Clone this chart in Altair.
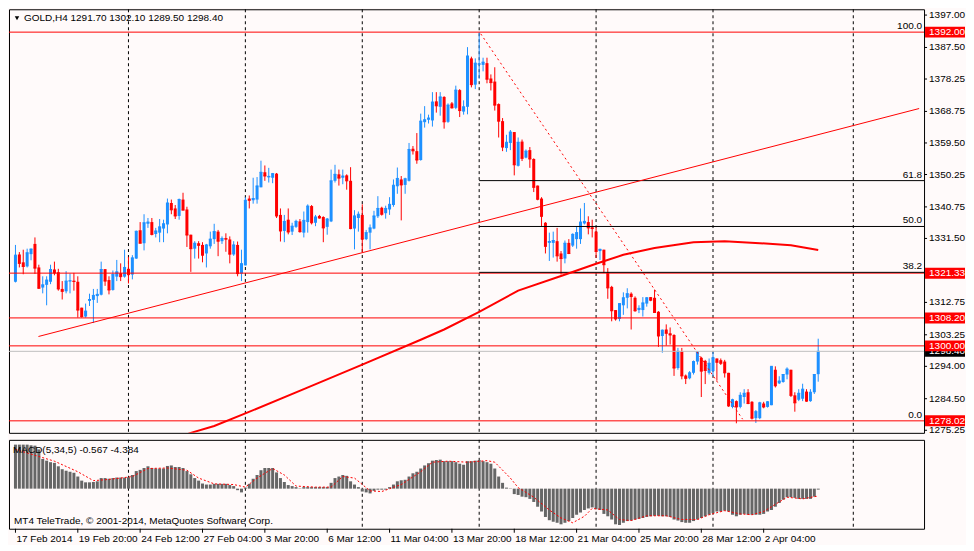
import altair as alt
import pandas as pd

# ---------------- data ----------------
opens = [1318.8, 1326.8, 1324.5, 1323.3, 1326.9, 1329.9, 1323.0, 1317.1, 1317.9, 1318.8,
         1322.4, 1321.6, 1316.7, 1316.0, 1318.9, 1319.1, 1318.8, 1311.2, 1308.6, 1313.2,
         1313.5, 1314.6, 1315.0, 1322.5, 1319.3, 1316.4, 1320.3, 1321.3, 1320.3, 1322.6,
         1320.9, 1325.6, 1333.9, 1330.1, 1335.8, 1336.3, 1332.8, 1333.2, 1334.4, 1335.6,
         1341.9, 1340.3, 1338.1, 1342.9, 1340.0, 1332.6, 1328.5, 1330.1, 1329.6, 1327.1,
         1329.2, 1331.3, 1333.5, 1330.7, 1331.6, 1331.2, 1326.8, 1329.6, 1321.2, 1323.6,
         1343.2, 1342.7, 1342.9, 1346.5, 1350.9, 1349.4, 1349.3, 1350.5, 1338.4, 1333.7,
         1337.0, 1333.5, 1334.9, 1336.5, 1333.2, 1336.3, 1341.0, 1336.1, 1338.1, 1337.8,
         1334.9, 1336.5, 1348.4, 1350.3, 1349.3, 1350.0, 1348.4, 1334.4, 1337.5, 1338.4,
         1331.3, 1333.2, 1334.4, 1338.0, 1340.5, 1338.9, 1340.0, 1341.3, 1346.8, 1348.8,
         1347.2, 1348.4, 1357.8, 1357.1, 1354.5, 1365.6, 1366.3, 1366.1, 1371.7, 1370.1,
         1373.0, 1365.7, 1371.1, 1369.8, 1375.0, 1368.7, 1370.1, 1384.3, 1376.6, 1382.5,
         1382.4, 1382.9, 1378.4, 1377.5, 1370.9, 1365.9, 1358.0, 1359.5, 1362.7, 1352.8,
         1359.9, 1355.2, 1357.4, 1354.8, 1347.0, 1343.2, 1336.1, 1330.2, 1330.2, 1330.7,
         1327.1, 1325.6, 1330.2, 1329.4, 1331.3, 1331.3, 1335.9, 1336.3, 1334.8, 1333.5,
         1327.8, 1328.2, 1321.4, 1317.3, 1310.5, 1307.9, 1311.9, 1314.1, 1315.3, 1314.1,
         1310.5, 1310.5, 1312.4, 1314.3, 1314.1, 1310.0, 1302.9, 1304.8, 1303.7, 1303.2,
         1293.5, 1298.4, 1291.3, 1290.5, 1292.1, 1295.4, 1296.5, 1295.6, 1292.1, 1292.6,
         1296.3, 1295.8, 1295.4, 1292.1, 1282.1, 1283.8, 1282.1, 1285.0, 1286.4, 1283.6,
         1278.8, 1278.8, 1283.1, 1282.1, 1282.6, 1293.0, 1289.0, 1289.4, 1291.6, 1293.0,
         1285.5, 1284.2, 1284.5, 1286.6, 1283.8, 1286.4, 1291.7]
highs = [1329.6, 1327.5, 1328.2, 1328.5, 1328.5, 1331.8, 1323.8, 1320.4, 1320.4, 1323.8,
         1324.7, 1322.6, 1319.0, 1321.9, 1321.2, 1321.4, 1320.4, 1311.2, 1312.4, 1315.3,
         1316.7, 1316.7, 1324.7, 1322.5, 1320.4, 1322.1, 1325.2, 1324.2, 1328.2, 1326.1,
         1326.6, 1333.8, 1336.3, 1338.6, 1337.5, 1337.5, 1334.6, 1337.2, 1337.0, 1343.2,
         1342.9, 1341.3, 1343.2, 1344.9, 1340.8, 1332.6, 1330.7, 1330.7, 1330.4, 1329.9,
         1333.5, 1335.8, 1334.0, 1332.1, 1333.0, 1332.1, 1330.7, 1330.6, 1328.2, 1343.6,
         1344.1, 1349.3, 1349.5, 1354.3, 1352.9, 1352.2, 1350.7, 1350.7, 1340.3, 1338.4,
         1340.3, 1336.1, 1337.0, 1337.2, 1339.4, 1341.5, 1341.3, 1338.4, 1338.4, 1338.0,
         1337.5, 1351.7, 1353.1, 1351.7, 1351.7, 1350.3, 1352.4, 1339.8, 1339.4, 1341.5,
         1334.0, 1335.6, 1339.6, 1343.9, 1340.8, 1341.1, 1343.6, 1348.8, 1352.3, 1349.8,
         1349.3, 1359.5, 1358.6, 1362.4, 1368.1, 1370.3, 1367.8, 1374.4, 1374.4, 1374.4,
         1373.2, 1371.1, 1371.5, 1376.3, 1375.3, 1372.0, 1387.6, 1384.8, 1384.3, 1392.0,
         1384.5, 1384.5, 1379.6, 1381.7, 1371.1, 1366.8, 1361.9, 1363.3, 1362.7, 1361.1,
         1360.5, 1357.6, 1358.3, 1355.0, 1347.0, 1343.6, 1336.3, 1333.2, 1333.5, 1334.6,
         1327.8, 1330.9, 1331.3, 1333.0, 1335.1, 1340.3, 1341.9, 1338.0, 1337.0, 1334.8,
         1328.5, 1328.2, 1322.8, 1317.6, 1310.5, 1312.4, 1315.7, 1316.9, 1315.7, 1314.5,
         1311.9, 1314.3, 1314.3, 1314.3, 1316.5, 1310.2, 1304.8, 1306.3, 1305.4, 1303.4,
         1299.4, 1299.4, 1291.6, 1292.6, 1295.7, 1298.5, 1296.8, 1295.9, 1296.3, 1298.2,
         1296.3, 1296.3, 1295.9, 1292.1, 1284.5, 1284.0, 1286.4, 1287.3, 1287.3, 1283.8,
         1281.2, 1283.6, 1283.6, 1283.8, 1294.1, 1294.0, 1291.1, 1291.6, 1293.7, 1293.0,
         1286.4, 1287.3, 1288.9, 1287.3, 1287.3, 1291.6, 1302.1]
lows = [1318.6, 1323.0, 1321.0, 1323.0, 1325.1, 1321.1, 1316.7, 1315.4, 1311.9, 1318.1,
        1320.7, 1316.2, 1313.6, 1315.4, 1315.4, 1316.2, 1308.3, 1308.3, 1308.3, 1311.7,
        1306.7, 1312.6, 1314.8, 1317.6, 1315.1, 1316.2, 1319.0, 1319.0, 1320.0, 1318.3,
        1319.5, 1325.5, 1330.1, 1328.0, 1334.6, 1332.4, 1331.8, 1330.4, 1330.4, 1333.0,
        1338.6, 1337.2, 1337.0, 1339.8, 1329.0, 1321.7, 1325.6, 1325.6, 1324.5, 1323.0,
        1328.5, 1329.9, 1326.3, 1329.9, 1327.6, 1324.2, 1326.4, 1320.4, 1319.0, 1323.6,
        1340.3, 1341.7, 1341.7, 1346.5, 1348.4, 1347.9, 1347.7, 1337.5, 1330.6, 1330.4,
        1332.7, 1332.5, 1334.6, 1333.2, 1331.8, 1333.2, 1335.6, 1335.1, 1337.3, 1330.4,
        1332.6, 1336.3, 1347.9, 1347.0, 1347.4, 1345.8, 1334.2, 1328.3, 1333.5, 1327.4,
        1331.0, 1328.3, 1334.2, 1337.5, 1338.2, 1337.3, 1338.4, 1340.8, 1344.6, 1336.8,
        1344.6, 1348.2, 1356.1, 1353.4, 1354.3, 1364.0, 1365.2, 1364.3, 1368.4, 1367.5,
        1363.7, 1365.4, 1369.6, 1369.4, 1367.1, 1367.8, 1367.9, 1375.8, 1375.3, 1378.4,
        1380.5, 1377.0, 1374.9, 1369.0, 1361.1, 1357.1, 1356.9, 1357.4, 1350.0, 1352.6,
        1354.2, 1355.0, 1352.2, 1345.1, 1342.7, 1335.1, 1327.1, 1324.9, 1325.9, 1324.7,
        1320.9, 1324.2, 1326.9, 1329.0, 1328.5, 1329.9, 1335.6, 1332.7, 1331.8, 1325.8,
        1325.2, 1321.4, 1313.8, 1307.2, 1307.4, 1307.2, 1309.1, 1311.0, 1304.8, 1310.0,
        1309.6, 1308.6, 1311.5, 1313.1, 1309.8, 1299.7, 1298.0, 1300.1, 1300.4, 1291.2,
        1293.0, 1290.2, 1288.8, 1290.2, 1291.6, 1294.5, 1285.0, 1288.8, 1291.6, 1291.1,
        1289.8, 1294.4, 1290.7, 1282.1, 1281.7, 1277.3, 1281.7, 1283.1, 1282.9, 1278.4,
        1277.4, 1278.5, 1281.7, 1281.9, 1282.6, 1287.8, 1288.8, 1289.2, 1290.2, 1285.0,
        1280.7, 1283.8, 1283.8, 1283.6, 1283.6, 1285.9, 1289.5]
closes = [1326.6, 1324.2, 1323.3, 1327.3, 1328.4, 1322.8, 1316.9, 1317.9, 1319.3, 1322.4,
          1321.4, 1316.7, 1316.0, 1319.0, 1319.1, 1318.9, 1310.5, 1308.6, 1310.2, 1313.6,
          1314.8, 1315.1, 1322.4, 1319.0, 1316.4, 1320.9, 1321.7, 1320.3, 1323.0, 1320.9,
          1325.8, 1333.6, 1330.1, 1336.1, 1336.3, 1332.7, 1333.7, 1334.9, 1335.8, 1341.9,
          1339.9, 1338.1, 1342.9, 1339.8, 1332.5, 1328.5, 1330.1, 1329.5, 1326.6, 1329.6,
          1331.3, 1333.5, 1330.7, 1331.5, 1331.3, 1326.9, 1329.6, 1321.2, 1324.1, 1342.7,
          1342.7, 1343.2, 1346.9, 1350.9, 1349.8, 1349.7, 1350.5, 1338.1, 1333.7, 1336.5,
          1333.4, 1335.1, 1336.5, 1333.5, 1336.8, 1341.0, 1336.1, 1337.8, 1337.5, 1334.6,
          1337.2, 1348.4, 1350.3, 1349.2, 1349.8, 1348.4, 1334.4, 1338.1, 1338.6, 1331.3,
          1333.2, 1334.6, 1338.1, 1340.3, 1338.6, 1340.3, 1341.5, 1347.1, 1349.1, 1347.2,
          1349.0, 1357.6, 1357.2, 1354.5, 1365.9, 1366.3, 1366.8, 1371.5, 1370.4, 1373.0,
          1365.7, 1370.6, 1369.8, 1375.0, 1369.0, 1370.1, 1385.0, 1376.6, 1382.9, 1382.7,
          1383.2, 1378.2, 1377.2, 1370.6, 1365.9, 1358.3, 1359.7, 1362.7, 1353.1, 1359.7,
          1355.0, 1357.1, 1354.8, 1346.5, 1343.0, 1338.0, 1329.2, 1330.6, 1330.9, 1326.4,
          1325.6, 1330.1, 1327.1, 1332.7, 1333.2, 1336.3, 1336.5, 1334.6, 1334.4, 1327.7,
          1328.3, 1323.8, 1317.0, 1310.3, 1307.9, 1312.4, 1314.1, 1315.3, 1314.5, 1310.3,
          1311.0, 1312.6, 1314.1, 1313.4, 1309.8, 1302.9, 1304.6, 1303.7, 1303.2, 1293.5,
          1298.4, 1291.2, 1290.5, 1292.1, 1295.4, 1298.2, 1292.6, 1292.8, 1294.9, 1296.5,
          1295.2, 1294.9, 1292.1, 1282.4, 1284.2, 1282.1, 1285.5, 1286.1, 1283.1, 1278.8,
          1280.7, 1283.3, 1282.1, 1283.6, 1294.0, 1288.3, 1289.7, 1291.6, 1293.2, 1285.5,
          1283.3, 1286.1, 1287.3, 1283.8, 1286.4, 1291.6, 1298.4]

macd_hist = [25.8, 25.8, 25.8, 25.8, 25.4, 25.2, 23.0, 17.4, 16.4, 15.5,
             15.1, 13.1, 11.4, 10.5, 9.9, 9.3, 7.1, 4.7, 3.7, 3.7,
             3.9, 4.3, 6.2, 6.2, 5.8, 6.2, 6.5, 6.5, 6.5, 6.7,
             8.0, 10.3, 11.0, 12.1, 13.1, 12.1, 11.8, 11.8, 11.8, 13.3,
             13.6, 12.7, 12.7, 12.1, 10.3, 8.4, 6.2, 4.7, 3.0, 2.4,
             2.4, 2.8, 2.8, 2.8, 2.8, 2.1, 1.5, -0.9, -2.2, 0.6,
             2.8, 5.8, 8.0, 10.8, 12.1, 12.1, 12.1, 9.5, 6.2, 3.9,
             2.1, 1.5, 0.9, 0.2, 0.9, 0.9, 0.9, 0.9, 0.9, 0.9,
             0.9, 3.4, 6.2, 7.1, 8.0, 7.5, 4.3, 2.4, 0.9, -1.7,
             -2.2, -2.8, -1.3, -0.6, -0.6, -0.6, 0.9, 2.4, 4.3, 4.9,
             5.2, 7.1, 9.0, 9.9, 11.8, 13.6, 14.9, 16.4, 16.8, 17.0,
             16.1, 16.1, 16.1, 15.5, 14.6, 14.0, 16.1, 16.1, 16.4, 16.8,
             16.1, 15.5, 14.6, 11.8, 7.1, 3.4, 0.6, 0.2, -3.2, -3.7,
             -4.7, -5.0, -6.0, -7.8, -10.6, -13.4, -16.6, -18.5, -19.4, -20.0,
             -20.9, -20.0, -19.0, -17.2, -15.3, -14.0, -12.5, -11.6, -11.0, -12.1,
             -12.5, -14.8, -16.2, -18.1, -20.9, -21.3, -20.0, -19.0, -18.7, -18.1,
             -17.7, -17.2, -16.6, -16.2, -15.9, -15.9, -16.2, -16.2, -16.6, -18.1,
             -18.7, -19.6, -20.0, -20.0, -19.0, -18.1, -17.2, -16.2, -15.3, -14.4,
             -13.4, -13.4, -12.9, -13.4, -15.3, -16.2, -15.3, -14.8, -15.3, -15.3,
             -15.3, -15.3, -14.8, -13.4, -12.5, -10.6, -8.4, -6.5, -5.0, -5.0,
             -5.4, -6.0, -6.0, -6.0, -6.0, -4.7, -0.567]

signal_bars = [0, 10, 16, 20, 23, 27, 30, 34, 39, 44, 47, 51, 56, 59, 62, 66, 69, 72, 77,
               81, 84, 87, 91, 94, 99, 104, 107, 111, 116, 121, 123, 127, 129, 133, 137,
               140, 143, 146, 148, 152, 155, 158, 162, 167, 171, 175, 178, 182, 186, 189,
               192, 196, 198, 202, 205, 206]
signal_vals = [23.0, 16.1, 9.9, 4.7, 5.2, 6.2, 7.1, 11.8, 12.1, 10.8, 6.2, 2.8, 2.4, 0.9,
               6.2, 11.8, 8.0, 1.5, 0.9, 0.9, 7.1, 6.2, -1.3, -1.7, 2.4, 9.9, 15.5, 16.1,
               15.5, 16.4, 15.5, 6.2, 0.6, -5.0, -12.5, -17.2, -20.0, -16.2, -11.6, -12.5,
               -18.1, -18.7, -15.9, -15.9, -18.1, -18.1, -15.3, -12.9, -14.8, -15.3, -13.4,
               -7.8, -5.0, -6.0, -4.7, -4.384]

ma_bars = [43, 45, 51, 59, 74, 89, 104, 110, 119, 129, 140, 149, 156, 164, 174, 182, 191, 199, 206]
ma_vals = [1273.6, 1274.5, 1276.5, 1280.2, 1287.3, 1294.5, 1301.8, 1304.8, 1310.0, 1316.2,
           1320.5, 1324.1, 1326.7, 1328.7, 1330.4, 1330.7, 1330.1, 1329.5, 1328.1]

trend_bars = [5.9, 231.9]
trend_prices = [1302.75, 1369.6]
fall_bars = [119.4, 186.6]
fall_prices = [1391.5, 1278.5]

level_prices = [1392.00, 1321.33, 1308.20, 1300.00, 1278.02]
level_labels = ["1392.00", "1321.33", "1308.20", "1300.00", "1278.02"]
bid_price = 1298.40
bid_label = "1298.40"

fib_prices = [1392.00, 1348.46, 1335.01, 1321.56, 1278.02]
fib_labels = ["100.0", "61.8", "50.0", "38.2", "0.0"]
fib_start_bar = 119

price_ticks = [1397.00, 1387.50, 1378.25, 1368.75, 1359.50, 1350.25, 1340.75, 1331.50,
               1312.75, 1303.25, 1294.00, 1284.50, 1275.25]
macd_ticks = [28.608, 0.0, -23.496]
date_ticks = [0, 16, 32, 48, 64, 80, 96, 112, 128, 144, 160, 176, 192]
date_labels = ["17 Feb 2014", "19 Feb 20:00", "24 Feb 12:00", "27 Feb 04:00", "3 Mar 20:00",
               "6 Mar 12:00", "11 Mar 04:00", "13 Mar 20:00", "18 Mar 12:00", "21 Mar 04:00",
               "25 Mar 20:00", "28 Mar 12:00", "2 Apr 04:00"]
grid_bars = [29, 59, 89, 119, 149, 179, 215]

title_text = "GOLD,H4  1291.70 1302.10 1289.50 1298.40"
macd_text = "MACD(5,34,5) -0.567 -4.384"
copyright_text = "MT4 TeleTrade, \u00a9 2001-2014, MetaQuotes Software Corp."

# ---------------- layout / style ----------------
W, H, HM = 916, 424, 89
FONT = "Liberation Sans"
FS = 10
BULL, BEAR = "#1E90FF", "#FF0000"
YTOP, YBOT = 1398.7, 1274.5
BOX_HALF = 5.5 * (YTOP - YBOT) / H   # half height of the price tags, in price units

xs = alt.Scale(domain=[-0.375, 231.875], nice=False, zero=False)
ys = alt.Scale(domain=[YBOT, YTOP], nice=False, zero=False)
ms = alt.Scale(domain=[-23.496, 28.608], nice=False, zero=False)


def X(field):
    return alt.X(field, scale=xs, axis=None)


def Y(field):
    return alt.Y(field, scale=ys, axis=None)


def M(field, axis=None):
    return alt.Y(field, scale=ms, axis=axis)


candles = pd.DataFrame({"bar": list(range(len(opens))), "open": opens, "high": highs,
                        "low": lows, "close": closes})
candles["dir"] = ["up" if c >= o else "down" for o, c in zip(opens, closes)]
col = alt.Color("dir:N", scale=alt.Scale(domain=["up", "down"], range=[BULL, BEAR]), legend=None)

grid_df = pd.DataFrame({"bar": grid_bars})

# ---------------- main price panel ----------------
grid_main = alt.Chart(grid_df).mark_rule(color="black", strokeDash=[3, 3], strokeWidth=1).encode(
    x=X("bar:Q"))

wick = alt.Chart(candles).mark_rule(strokeWidth=1).encode(
    x=X("bar:Q"), y=Y("low:Q"), y2="high:Q", color=col)
body = alt.Chart(candles).mark_bar(size=3).encode(
    x=X("bar:Q"), y=Y("open:Q"), y2="close:Q", color=col)
doji = alt.Chart(candles).mark_tick(orient="horizontal", size=3, thickness=1, opacity=1).encode(
    x=X("bar:Q"), y=Y("close:Q"), color=col)

ma_df = pd.DataFrame({"bar": ma_bars, "v": ma_vals})
ma_line = alt.Chart(ma_df).mark_line(color="#FF0000", strokeWidth=2, clip=True).encode(
    x=X("bar:Q"), y=Y("v:Q"))

trend_df = pd.DataFrame({"bar": trend_bars, "v": trend_prices})
trend_line = alt.Chart(trend_df).mark_line(color="#FF0000", strokeWidth=1, clip=True).encode(
    x=X("bar:Q"), y=Y("v:Q"))

fall_df = pd.DataFrame({"bar": fall_bars, "v": fall_prices})
fall_line = alt.Chart(fall_df).mark_line(color="#FF0000", strokeWidth=1, strokeDash=[2, 3],
                                         clip=True).encode(x=X("bar:Q"), y=Y("v:Q"))

lvl_df = pd.DataFrame({"price": level_prices, "label": level_labels})
bid_df = pd.DataFrame({"price": [bid_price], "label": [bid_label]})
fib_df = pd.DataFrame({"price": fib_prices, "label": fib_labels,
                       "start": [fib_start_bar] * len(fib_prices)})
tick_df = pd.DataFrame({"price": price_ticks,
                        "label": ["%.2f" % p for p in price_ticks]})

bid_rule = alt.Chart(bid_df).mark_rule(color="#C0C0C0", strokeWidth=1).encode(y=Y("price:Q"))
lvl_rules = alt.Chart(lvl_df).mark_rule(color="#FF0000", strokeWidth=1).encode(y=Y("price:Q"))
fib_rules = alt.Chart(fib_df.iloc[1:4]).mark_rule(color="black", strokeWidth=1).encode(
    x=X("start:Q"), x2=alt.value(W), y=Y("price:Q"))
fib_text = alt.Chart(fib_df).mark_text(align="right", baseline="bottom", dy=-1, font=FONT,
                                       fontSize=FS, color="black").encode(
    x=alt.value(W - 2), y=Y("price:Q"), text="label:N")

# price scale (right side): ticks + labels
p_ticks = alt.Chart(tick_df).mark_rule(color="black", strokeWidth=1).encode(
    y=Y("price:Q"), x=alt.value(W), x2=alt.value(W + 3))
p_labels = alt.Chart(tick_df).mark_text(align="left", baseline="middle", font=FONT,
                                        fontSize=FS, color="black").encode(
    y=Y("price:Q"), x=alt.value(W + 5), text="label:N")

title_df = pd.DataFrame({"t": [title_text]})
title_mark = alt.Chart(title_df).mark_text(align="left", baseline="middle", font=FONT,
                                           fontSize=FS, color="black").encode(
    x=alt.value(15), y=alt.value(9), text="t:N")
tri = alt.Chart(title_df).mark_point(shape="triangle-down", filled=True, color="black",
                                     size=20, opacity=1).encode(x=alt.value(8), y=alt.value(9))


def tag(df, fill):
    box = alt.Chart(df).transform_calculate(
        top="datum.price + %f" % BOX_HALF, bot="datum.price - %f" % BOX_HALF
    ).mark_rect(color=fill).encode(
        y=Y("top:Q"), y2="bot:Q", x=alt.value(W + 1), x2=alt.value(W + 41))
    txt = alt.Chart(df).mark_text(align="left", baseline="middle", color="white", font=FONT,
                                  fontSize=FS).encode(
        y=Y("price:Q"), x=alt.value(W + 5), text="label:N")
    return box, txt


bid_box, bid_txt = tag(bid_df, "black")
lvl_box, lvl_txt = tag(lvl_df, "#FF0000")

main = alt.layer(grid_main, wick, body, doji, bid_rule, lvl_rules, fib_rules, ma_line,
                 trend_line, fall_line, fib_text, tri, title_mark, p_ticks, p_labels,
                 bid_box, bid_txt, lvl_box, lvl_txt).properties(width=W, height=H)

# ---------------- MACD panel ----------------
macd_axis = alt.Axis(orient="right", values=macd_ticks, title=None, grid=False, domain=False,
                     tickSize=3, tickColor="black", labelColor="black", labelFont=FONT,
                     labelFontSize=FS, labelPadding=2, labelOverlap=False, labelFlush=True,
                     labelExpr="datum.value == 0 ? '0.00' : format(datum.value, '.3f')")

hist_df = pd.DataFrame({"bar": list(range(len(macd_hist))), "hist": macd_hist})
sig_df = pd.DataFrame({"bar": signal_bars, "v": signal_vals})
date_df = pd.DataFrame({"bar": date_ticks, "label": date_labels})

grid_macd = alt.Chart(grid_df).mark_rule(color="black", strokeDash=[3, 3], strokeWidth=1).encode(
    x=X("bar:Q"))
hist_bars = alt.Chart(hist_df).mark_bar(size=3, color="#666666").encode(
    x=X("bar:Q"), y=M("hist:Q", macd_axis))
sig_line = alt.Chart(sig_df).mark_line(color="#FF0000", strokeWidth=1, strokeDash=[2, 2]).encode(
    x=X("bar:Q"), y=M("v:Q"))

macd_df = pd.DataFrame({"t": [macd_text]})
macd_label = alt.Chart(macd_df).mark_text(align="left", baseline="middle", font=FONT,
                                          fontSize=FS, color="black").encode(
    x=alt.value(4), y=alt.value(10), text="t:N")
copy_df = pd.DataFrame({"t": [copyright_text]})
copy_label = alt.Chart(copy_df).mark_text(align="left", baseline="middle", font=FONT,
                                          fontSize=FS, color="black").encode(
    x=alt.value(5), y=alt.value(HM - 8), text="t:N")

# time scale below the MACD panel: ticks + labels
d_ticks = alt.Chart(date_df).mark_rule(color="black", strokeWidth=1).encode(
    x=X("bar:Q"), y=alt.value(HM), y2=alt.value(HM + 4))
d_labels = alt.Chart(date_df).mark_text(align="left", baseline="top", dx=1, font=FONT,
                                        fontSize=FS, color="black").encode(
    x=X("bar:Q"), y=alt.value(HM + 5), text="label:N")

macd = alt.layer(grid_macd, hist_bars, sig_line, macd_label, copy_label, d_ticks,
                 d_labels).properties(width=W, height=HM)

chart = alt.vconcat(main, macd, spacing=3).properties(
    padding=0, background="#FFFAFA"
).configure_view(stroke="black", strokeWidth=1)

chart.save("out.html", embed_options={"renderer": "svg", "actions": False})
